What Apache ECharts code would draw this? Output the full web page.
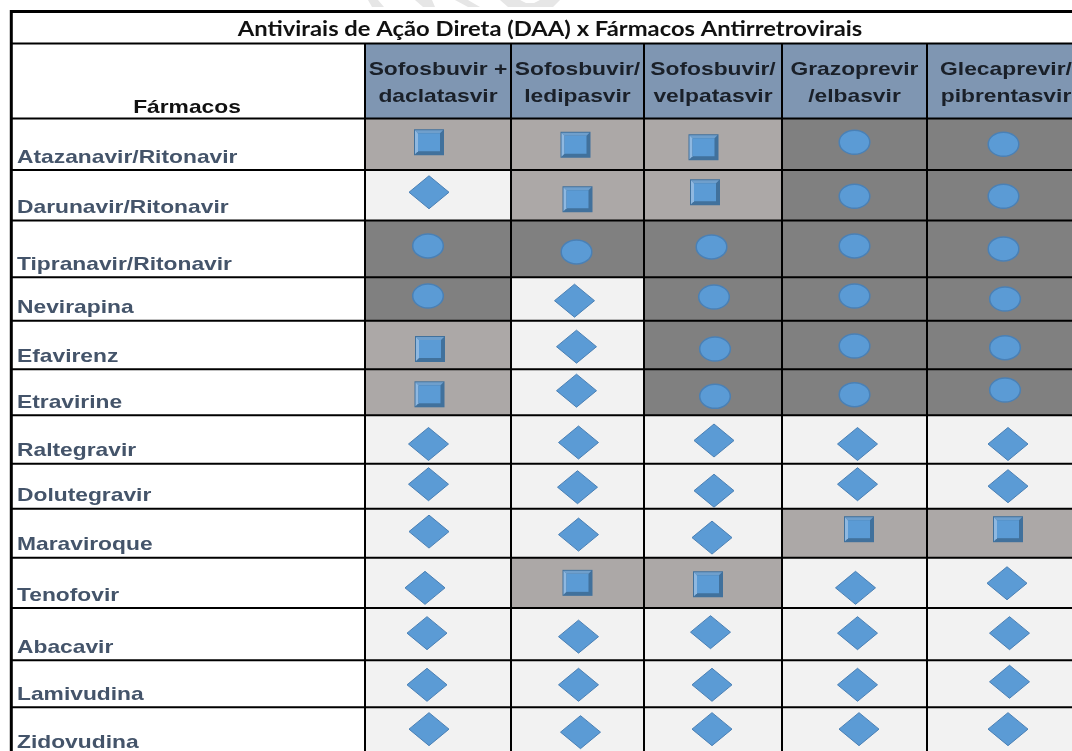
<!DOCTYPE html>
<html><head><meta charset="utf-8">
<style>html,body{margin:0;padding:0;background:#fff;overflow:hidden}#c{width:1072px;height:751px}</style>
<script src="https://cdn.jsdelivr.net/npm/echarts@6/dist/echarts.min.js"></script>
</head><body><div id="c"></div>
<script>
// ---------- data ----------
const chartTitle = 'Antivirais de Ação Direta (DAA) x Fármacos Antirretrovirais';
const rowHeader = 'Fármacos';
const regimens = ['Sofosbuvir +\ndaclatasvir','Sofosbuvir/\nledipasvir','Sofosbuvir/\nvelpatasvir','Grazoprevir\n/elbasvir','Glecaprevir/\npibrentasvir'];
const drugs = ['Atazanavir/Ritonavir','Darunavir/Ritonavir','Tipranavir/Ritonavir','Nevirapina','Efavirenz','Etravirine','Raltegravir','Dolutegravir','Maraviroque','Tenofovir','Abacavir','Lamivudina','Zidovudina'];
// 0 = diamond (light), 1 = square (mid grey), 2 = circle (dark grey)
const interaction = [
 [1,1,1,2,2],[0,1,1,2,2],[2,2,2,2,2],[2,0,2,2,2],[1,0,2,2,2],[1,0,2,2,2],
 [0,0,0,0,0],[0,0,0,0,0],[0,0,0,1,1],[0,1,1,0,0],[0,0,0,0,0],[0,0,0,0,0],[0,0,0,0,0]
];
// ---------- layout ----------
const colEdges = [12,365,511,644,782,927,1085];
const rowEdges = [118.5,170,220.5,277.3,320.7,369.3,415.3,463.7,508.7,557.7,608,660.3,707.3,755];
const headTop = 44;
const nudgeX = [[-9,-2,-9.5,0,-2.5],[-9,0,-8,0,-2.5],[-10,-1,-1.5,0,-2.5],[-10,-3,1,0,-1],[-8,-1,2,0,-1],[-8.5,-1,2,0,-1],[-9.5,1,1,3,2],[-9.5,0,1,3,2],[-9,1,-1,4.5,2],[-13,0,-5,1,1],[-11,1,-2.5,3,3.5],[-11,1,-1,3,3.5],[-9,3,-1,4.5,2]];
const nudgeY = [[-2,.5,3,-2,0],[-3,4,-3,1,1],[-3,3,-2,-3,0],[-3,1.7,-2,-3,0],[4,1.7,4,1,2.7],[2,-1.6,4,2.4,-2.3],[4.5,3,1,4.5,4.5],[-2,1,4.5,-2,0],[-1.6,1.4,4.4,-4,-4],[5,0,1.4,5,.4],[-1,2.5,-2,-1,-1],[1,1,1,1,-2],[-2,1,-2,-2,-2]];
const watermark = [
 [[368,0],[378,0],[384,7],[372,7]],
 [[415,0],[432,0],[435,7],[423,7]],
 [[455,0],[468,0],[480,7],[468,7]],
 [[500,0],[520,0],[526,3],[534,3],[540,0],[560,0],[553,7],[508,7]]
];
const fills = ['#f2f2f2','#aca8a7','#808080'];
const BLUE='#5b9bd5', EDGE='#4a80b5';
const labelFont='bold 19px "Liberation Sans"';
const STRETCH=1.2;

const cells=[]; interaction.forEach((row,r)=>row.forEach((v,c)=>cells.push([c,r,v])));
const chart=echarts.init(document.getElementById('c'),null,{renderer:'canvas'});

function rectBetween(api,x0,y0,x1,y1,fill){
  const a=api.coord([x0,y0]),b=api.coord([x1,y1]);
  return {type:'rect',shape:{x:a[0],y:a[1],width:b[0]-a[0],height:b[1]-a[1]},style:{fill}};
}
function marker(kind,x,y){
  if(kind===0) return {type:'polygon',shape:{points:[[x-20,y],[x,y-16.5],[x+20,y],[x,y+16.5]]},style:{fill:BLUE,stroke:EDGE,lineWidth:1}};
  if(kind===2) return {type:'ellipse',shape:{cx:x,cy:y,rx:15.3,ry:12},style:{fill:BLUE,stroke:EDGE,lineWidth:1.5}};
  const w=15,h=13;
  return {type:'group',children:[
    {type:'rect',shape:{x:x-w,y:y-h,width:2*w,height:2*h},style:{fill:'#41719c'}},
    {type:'polygon',shape:{points:[[x-w+1,y-h+1],[x+w-1,y-h+1],[x+w-4,y-h+4],[x-w+4,y-h+4]]},style:{fill:'#6f9fcc'}},
    {type:'polygon',shape:{points:[[x-w+1,y-h+1],[x-w+4,y-h+4],[x-w+4,y+h-4],[x-w+1,y+h-1]]},style:{fill:'#8fb8e0'}},
    {type:'rect',shape:{x:x-w+4,y:y-h+4,width:2*w-8,height:2*h-8},style:{fill:BLUE}}
  ]};
}
function stretched(x,y,text,fill,align,vAlign,lh,font,sx){
  const st={text,x:0,y:0,align,verticalAlign:vAlign,font:font||labelFont,fill};
  if(lh) st.lineHeight=lh;
  return {type:'text',x,y,scaleX:sx||STRETCH,style:st};
}
const lineData=[];
[11.5,43.5].concat(rowEdges.slice(0,-1)).forEach(y=>lineData.push(['h',y]));
colEdges.slice(1,-1).forEach(x=>lineData.push(['v',x]));

chart.setOption({
  animation:false,
  backgroundColor:'#ffffff',
  grid:{left:0,right:0,top:0,bottom:0},
  xAxis:{type:'value',min:0,max:1072,show:false},
  yAxis:{type:'value',min:0,max:751,inverse:true,show:false},
  series:[
   {type:'custom',silent:true,clip:false,z:0,data:watermark.map((d,i)=>[i]),encode:{x:0},
    renderItem:(p,api)=>({type:'polygon',shape:{points:watermark[api.value(0)].map(q=>api.coord(q))},style:{fill:'#e6e6e6'}})},
   {type:'custom',silent:true,clip:false,z:1,data:cells,coordinateSystem:'cartesian2d',
    encode:{x:0,y:1},
    renderItem:(p,api)=>{const c=api.value(0),r=api.value(1),v=api.value(2);
      return rectBetween(api,colEdges[c+1],rowEdges[r],colEdges[c+2],rowEdges[r+1],fills[v]);}},
   {type:'custom',silent:true,clip:false,z:2,data:regimens.map((s,i)=>[i]),encode:{x:0},
    renderItem:(p,api)=>{const i=api.value(0);
      const a=api.coord([colEdges[i+1],headTop]),b=api.coord([colEdges[i+2],rowEdges[0]]);
      const cx=(a[0]+b[0])/2;
      return {type:'group',children:[
        {type:'rect',shape:{x:a[0],y:a[1],width:b[0]-a[0],height:b[1]-a[1]},style:{fill:'#7f96b2'}},
        stretched(cx,a[1]+12,regimens[i],'#1a2029','center','top',27)
      ]};}},
   {type:'custom',silent:true,clip:false,z:3,data:lineData.map((d,i)=>[i]),encode:{x:0},
    renderItem:(p,api)=>{const d=lineData[api.value(0)];
      const thick=d[1]===11.5?3:2;
      const a=d[0]==='h'?api.coord([10,d[1]]):api.coord([d[1],headTop]);
      const b=d[0]==='h'?api.coord([1072,d[1]]):api.coord([d[1],751]);
      return {type:'line',shape:{x1:a[0],y1:a[1],x2:b[0],y2:b[1]},style:{stroke:'#000',lineWidth:thick}};}},
   {type:'custom',silent:true,clip:false,z:3,data:[[11]],encode:{x:0},
    renderItem:(p,api)=>{const a=api.coord([11.3,10]),b=api.coord([11.3,751]);
      return {type:'line',shape:{x1:a[0],y1:a[1],x2:b[0],y2:b[1]},style:{stroke:'#000',lineWidth:3}};}},
   {type:'custom',silent:true,clip:false,z:4,data:drugs.map((s,i)=>[i]),encode:{y:0},
    renderItem:(p,api)=>{const r=api.value(0);
      const a=api.coord([17,rowEdges[r+1]]);
      return stretched(a[0],a[1]-3,drugs[r],'#44546a','left','bottom');}},
   {type:'custom',silent:true,clip:false,z:4,data:[[0]],encode:{x:0},
    renderItem:(p,api)=>{const a=api.coord([187,rowEdges[0]]);
      return stretched(a[0],a[1]-1,rowHeader,'#111','center','bottom');}},
   {type:'custom',silent:true,clip:false,z:4,data:[[0]],encode:{x:0},
    renderItem:(p,api)=>{const a=api.coord([550,29]);
      return stretched(a[0],a[1],chartTitle,'#111','center','middle',null,'bold 20.5px Lato',1.16);}},
   {type:'custom',silent:true,clip:false,z:5,data:cells,encode:{x:0,y:1},
    renderItem:(p,api)=>{const c=api.value(0),r=api.value(1),v=api.value(2);
      const cx=(colEdges[c+1]+colEdges[c+2])/2+nudgeX[r][c];
      const cy=(rowEdges[r]+rowEdges[r+1])/2+nudgeY[r][c];
      const q=api.coord([cx,cy]);
      return marker(v,q[0],q[1]);}}
  ]
});
</script></body></html>
